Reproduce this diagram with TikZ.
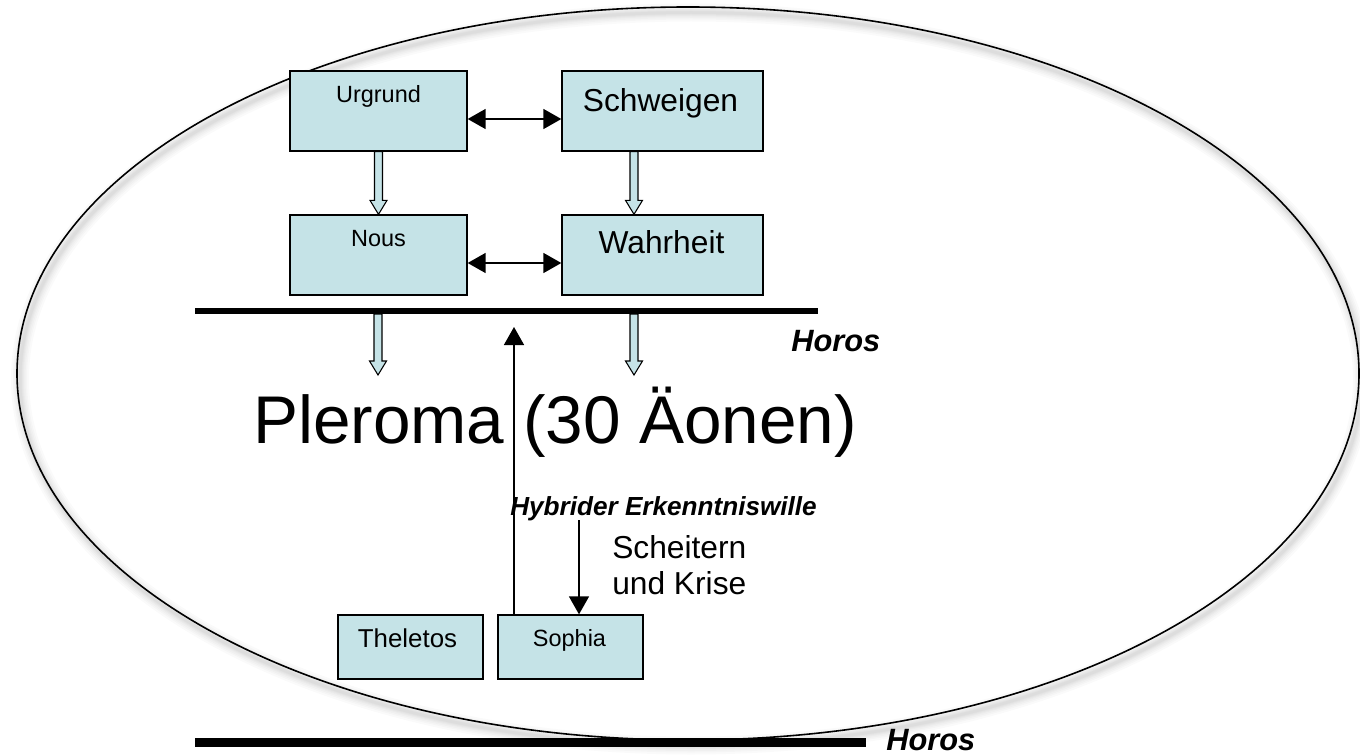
\documentclass[tikz,border=0pt]{standalone}
\usepackage{fontspec}
\setmainfont{Liberation Sans}
\usetikzlibrary{arrows.meta,calc}
\definecolor{boxfill}{RGB}{197,227,231}

% hollow block arrow pointing down from #1 to the tip #2
\newcommand\blockarrow[2]{%
  \filldraw[blockarrow]
    ($(#1)+(-4,0)$) -- ($(#1)+(4,0)$) -- ($(#2)+(4,-14)$) -- ($(#2)+(8.5,-14)$)
    -- (#2) -- ($(#2)+(-8.5,-14)$) -- ($(#2)+(-4,-14)$) -- cycle;}

\begin{document}
\begin{tikzpicture}[x=0.75pt,y=-0.75pt,
  box/.style={draw=black,fill=boxfill,line width=1pt,inner sep=0pt},
  widebox/.style={box,minimum width=201*0.75pt,minimum height=80*0.75pt},
  narrowbox/.style={box,minimum width=177*0.75pt,minimum height=80*0.75pt},
  lowbox/.style={box,minimum width=145*0.75pt,minimum height=64*0.75pt},
  txt/.style={inner sep=0pt,anchor=base},
  smalltxt/.style={txt,font=\fontsize{17.6}{21}\selectfont},
  bigtxt/.style={txt,font=\fontsize{23.8}{28}\selectfont},
  horostxt/.style={inner sep=0pt,anchor=base west,font=\fontsize{23.1}{27}\bfseries\itshape\selectfont},
  link/.style={line width=1.1pt,{Triangle[length=13.5pt,width=15pt]}-{Triangle[length=13.5pt,width=15pt]}},
  pointer/.style={line width=1.1pt,-{Triangle[length=13.5pt,width=15pt]}},
  horosline/.style={line width=#1},
  blockarrow/.style={draw=black,fill=boxfill,line width=0.8pt,line join=miter},
  haze/.style={black,opacity=0.018,line width=#1*0.75pt},
]
\useasboundingbox (0,0) rectangle (1360,756);

% soft shadow of the outer ellipse, built up from faint strokes
\foreach \w in {18,14,11,8,6,4,2.5}
  \draw[haze=\w] (691,379) ellipse [x radius=671,y radius=366.5];
% the pleroma
\draw[line width=1.2pt] (688,373.5) ellipse [x radius=671,y radius=366.5];

% the four highest aeons
\node[narrowbox] (urg)  at (378.5,111) {};
\node[widebox]   (sch)  at (662.5,111) {};
\node[narrowbox] (nous) at (378.5,255) {};
\node[widebox]   (wah)  at (662.5,255) {};
\node[smalltxt] at ($(urg.north)+(0,32)$)  {Urgrund};
\node[bigtxt]   at ($(sch.north)+(-2,41)$) {Schweigen};
\node[smalltxt] at ($(nous.north)+(0,32)$) {Nous};
\node[bigtxt]   at ($(wah.north)+(-1,39)$) {Wahrheit};

% syzygies
\draw[link] ($(urg.east)+(0,8)$)  -- ($(sch.west)+(0,8)$);
\draw[link] ($(nous.east)+(0,8)$) -- ($(wah.west)+(0,8)$);

% emanation
\coordinate (schout) at ($(sch.south)+(-28.5,0)$);
\blockarrow{urg.south}{nous.north}
\blockarrow{schout}{wah.north -| schout}

% upper boundary
\coordinate (h1a) at (195,311);
\coordinate (h1b) at (818,311);
\draw[horosline=4.5pt] (h1a) -- (h1b);
\node[horostxt] (horos1) at (791,351) {Horos};

\coordinate (e1) at (378,314);
\coordinate (e1t) at (378,375);
\coordinate (e2) at (634,314);
\coordinate (e2t) at (634,375);
\blockarrow{e1}{e1t}
\blockarrow{e2}{e2t}

\node[anchor=base west,inner sep=0pt,font=\fontsize{50.6}{60}\selectfont] (pler) at (253,443) {Pleroma (30 Äonen)};

% the lowest aeons
\node[lowbox] (thel) at (410.5,647) {};
\node[lowbox] (soph) at (570.5,647) {};
\node[txt,font=\fontsize{19.4}{23}\selectfont] at ($(thel.north)+(-3,33)$) {Theletos};
\node[smalltxt] at ($(soph.north)+(-1,32)$) {Sophia};

\node[inner sep=0pt,anchor=base east,font=\fontsize{19.6}{23}\bfseries\itshape\selectfont] (hyb) at (817,515) {Hybrider Erkenntniswille};
\node[bigtxt,anchor=base west] (sch1) at (612,558) {Scheitern};
\node[bigtxt,anchor=base west] (sch2) at (612,594) {und Krise};

\coordinate (uptip) at (514,327);
\coordinate (dnstart) at (579,520);
\draw[pointer] (soph.north -| uptip) -- (uptip);
\draw[pointer] (dnstart) -- (soph.north -| dnstart);

% lower boundary
\coordinate (h2a) at (195,742.5);
\coordinate (h2b) at (866,742.5);
\draw[horosline=6.75pt] (h2a) -- (h2b);
\node[horostxt] (horos2) at (886,750) {Horos};
\end{tikzpicture}
\end{document}
